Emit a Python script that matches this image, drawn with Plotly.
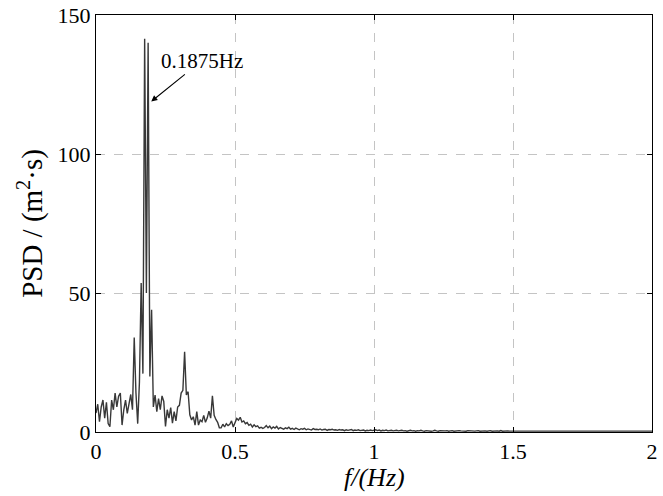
import numpy as np
import plotly.graph_objects as go

# Frequency bin width of the spectrum (Hz)
DF = 0.00625
PEAK_F = 0.1875

# Power spectral density, one row per 0.1 Hz (16 bins each)
psd_000 = [6.8, 10, 3.7, 9, 11.5, 5, 10.7, 3, 1.9, 11.5, 8, 14, 9, 12.9, 14, 2.5]
psd_010 = [8, 11.5, 6.7, 10.6, 13.5, 8, 34, 14, 3, 18, 53.6, 21, 141.5, 50, 140, 20]
psd_020 = [44, 9, 13.3, 7.3, 12, 8, 13, 11, 2, 8, 5, 8.8, 3.2, 7.3, 4, 9]
psd_030 = [9.6, 14, 15, 28.9, 13.3, 14.5, 6.2, 4.3, 5.5, 2.5, 7.3, 2.5, 4.3, 3.7, 6, 3.5]
psd_040 = [5, 7.5, 5, 13, 6, 4.5, 3.5, 1.5, 1.5, 2.8, 1.8, 3, 2.3, 2.8, 4, 1.8]
psd_050 = [3.6, 4.9, 4.3, 5.3, 3.6, 4, 3, 3.4, 2.4, 2.8, 1.8, 2.6, 1.9, 2.2, 1.4, 1.7]
psd_060 = [1.3, 1.6, 2.3, 1.5, 2.1, 1.2, 1.8, 1.4, 2.0, 1.1, 1.6, 1.3, 1.0, 1.5, 1.2, 1.7]
psd_070 = [1.0, 1.3, 0.9, 1.4, 1.1, 0.8, 1.2, 1.0, 1.3, 0.8, 1.1, 0.9, 0.7, 1.2, 0.9, 1.0]
psd_080 = [0.8, 1.1, 0.7, 0.9, 1.0, 0.6, 0.9, 0.8, 1.0, 0.7, 0.8, 0.6, 0.9, 0.7, 0.8, 0.5]
psd_090 = [0.8, 0.6, 0.7, 0.9, 0.5, 0.7, 0.6, 0.8, 0.5, 0.6, 0.7, 0.4, 0.6, 0.5, 0.7, 0.5]
psd_100 = [0.6, 0.8, 0.5, 0.7, 0.4, 0.6, 0.5, 0.7, 0.4, 0.5, 0.6, 0.4, 0.5, 0.6, 0.4, 0.5]
psd_110 = [0.6, 0.4, 0.5, 0.3, 0.5, 0.6, 0.4, 0.5, 0.3, 0.5, 0.4, 0.6, 0.4, 0.3, 0.5, 0.4]
psd_120 = [0.5, 0.3, 0.4, 0.6, 0.4, 0.3, 0.5, 0.4, 0.3, 0.4, 0.5, 0.3, 0.4, 0.5, 0.3, 0.4]
psd_130 = [0.3, 0.5, 0.4, 0.3, 0.4, 0.3, 0.5, 0.4, 0.3, 0.4, 0.3, 0.4, 0.5, 0.3, 0.4, 0.3]
psd_140 = [0.4, 0.3, 0.4, 0.5, 0.3, 0.4, 0.3, 0.4, 0.3, 0.5, 0.3, 0.4, 0.3, 0.4, 0.3, 0.3]
psd_150 = [0.4, 0.3, 0.3, 0.4, 0.3, 0.4, 0.3, 0.3, 0.4, 0.3, 0.4, 0.3, 0.3, 0.4, 0.3, 0.3]
psd_160 = [0.4, 0.3, 0.3, 0.4, 0.3, 0.3, 0.4, 0.3, 0.3, 0.4, 0.3, 0.3, 0.3, 0.4, 0.3, 0.3]
psd_170 = [0.3, 0.4, 0.3, 0.3, 0.3, 0.4, 0.3, 0.3, 0.4, 0.3, 0.3, 0.3, 0.4, 0.3, 0.3, 0.3]
psd_180 = [0.3, 0.3, 0.4, 0.3, 0.3, 0.3, 0.3, 0.4, 0.3, 0.3, 0.3, 0.3, 0.4, 0.3, 0.3, 0.3]
psd_190 = [0.3, 0.3, 0.3, 0.4, 0.3, 0.3, 0.3, 0.3, 0.3, 0.4, 0.3, 0.3, 0.3, 0.3, 0.3, 0.3]
psd_200 = [0.3]

psd = (psd_000 + psd_010 + psd_020 + psd_030 + psd_040 + psd_050 + psd_060
       + psd_070 + psd_080 + psd_090 + psd_100 + psd_110 + psd_120 + psd_130
       + psd_140 + psd_150 + psd_160 + psd_170 + psd_180 + psd_190 + psd_200)
freq = np.arange(len(psd)) * DF

x_ticks = [0, 0.5, 1, 1.5, 2]
y_ticks = [0, 50, 100, 150]

SERIF = "Liberation Serif, Times New Roman, serif"

fig = go.Figure()
fig.add_trace(go.Scatter(
    x=freq, y=psd, mode="lines",
    line=dict(color="#383838", width=1.4),
    showlegend=False,
))

axis_common = dict(
    showline=True, linecolor="black", linewidth=1, mirror="ticks",
    ticks="inside", ticklen=5, tickcolor="black", tickwidth=1,
    showgrid=True, gridcolor="#c4c4c4", griddash="dash", gridwidth=1,
    zeroline=False, automargin=False,
    tickfont=dict(family=SERIF, size=22, color="black"),
)

fig.update_xaxes(
    range=[0, 2], tickvals=x_ticks, ticktext=[f"{v:g}" for v in x_ticks],
    **axis_common,
)
fig.update_yaxes(
    range=[0, 150], tickvals=y_ticks, ticktext=[str(v) for v in y_ticks],
    title=dict(text="PSD / (m<sup>2</sup>·s)", font=dict(family=SERIF, size=29, color="black"),
               standoff=6),
    **axis_common,
)

# x-axis title, set a little closer to the tick labels
fig.add_annotation(
    x=0.5, y=-0.11, xref="paper", yref="paper",
    text="<i>f/(Hz)</i>", showarrow=False, yanchor="middle",
    font=dict(family=SERIF, size=26, color="black"),
)

# Label with an arrow pointing at the dominant spectral peak
fig.add_annotation(
    x=PEAK_F, y=118, xref="x", yref="y",
    ax=0.38, ay=133.5, axref="x", ayref="y",
    text=f"{PEAK_F:g}Hz", showarrow=True,
    arrowhead=2, arrowsize=1.1, arrowwidth=1.1, arrowcolor="black", standoff=4,
    font=dict(family=SERIF, size=21, color="black"),
)

fig.update_layout(
    width=663, height=496,
    margin=dict(l=96, r=11, t=15, b=64),
    paper_bgcolor="white", plot_bgcolor="white",
)

fig.write_html("out.html")
